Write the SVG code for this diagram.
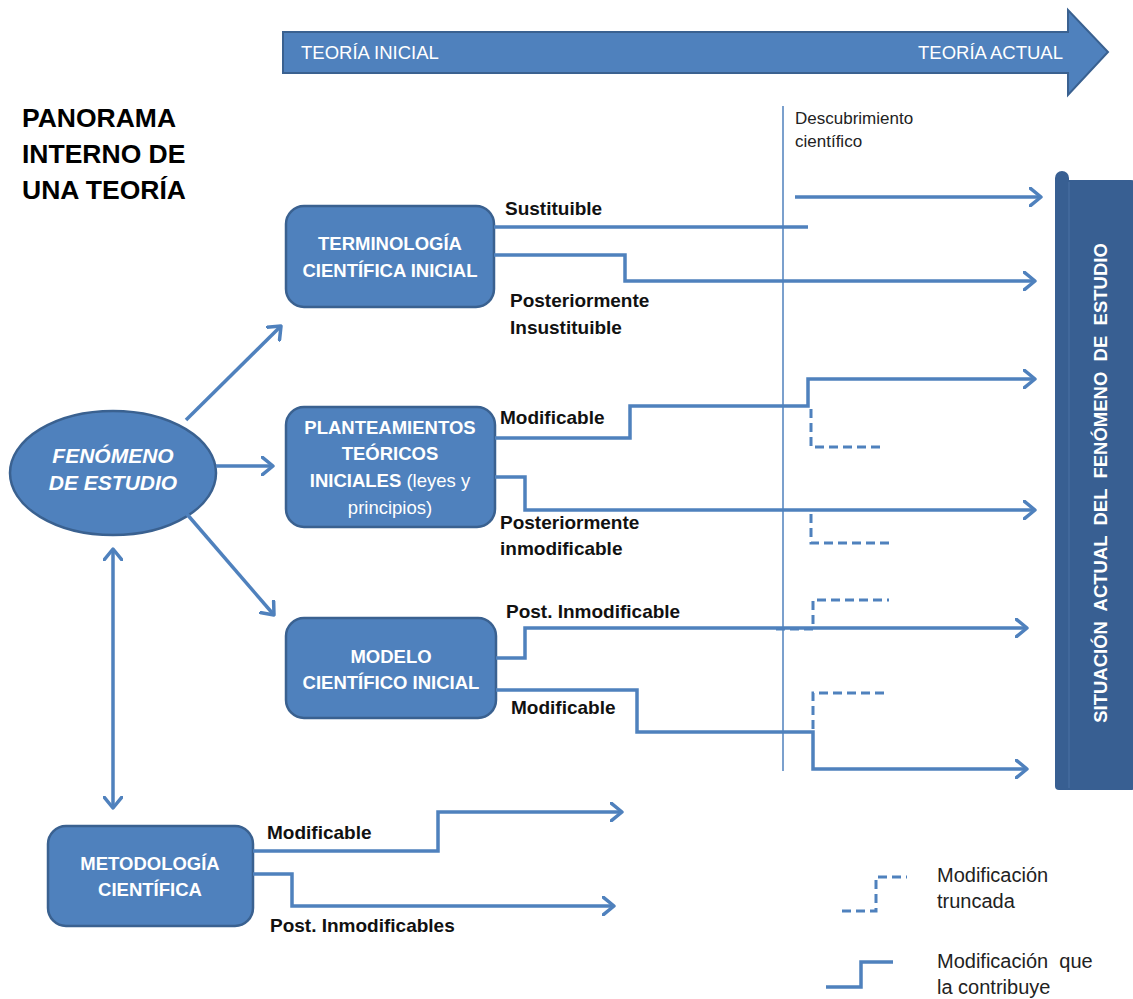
<svg xmlns="http://www.w3.org/2000/svg" width="1133" height="999" viewBox="0 0 1133 999">
<defs>
<marker id="ah" viewBox="0 0 14 20" refX="12" refY="10" markerWidth="14" markerHeight="20" markerUnits="userSpaceOnUse" orient="auto-start-reverse">
<polyline points="1,1 12,10 1,19" fill="none" stroke="#4f81bd" stroke-width="3.5" stroke-linecap="round" stroke-linejoin="round"/>
</marker>
<style>
.node{fill:#4f81bd;stroke:#3a6190;stroke-width:2.5}
.nt{font-family:"Liberation Sans",Arial,sans-serif;font-weight:bold;font-size:18.5px;fill:#fff;text-anchor:middle}
.ln{fill:none;stroke:#4f81bd;stroke-width:3.5;stroke-linejoin:miter}
.dash{fill:none;stroke:#4f81bd;stroke-width:3;stroke-dasharray:9,5}
.lbl{font-family:"Liberation Sans",Arial,sans-serif;font-weight:bold;font-size:19px;fill:#111}
.reg{font-family:"Liberation Sans",Arial,sans-serif;fill:#222}
</style>
</defs>
<rect width="1133" height="999" fill="#fff"/>

<g id="timeline">
<path d="M283,32 H1068 V10 L1108,52 L1068,95 V73 H283 Z" fill="#4f81bd" stroke="#3a6190" stroke-width="2"/>
<text x="301" y="59" font-family="'Liberation Sans',Arial,sans-serif" font-size="18.5" fill="#fff">TEORÍA INICIAL</text>
<text x="1063" y="59" font-family="'Liberation Sans',Arial,sans-serif" font-size="18.5" fill="#fff" text-anchor="end">TEORÍA ACTUAL</text>
</g>

<g id="title" font-family="'Liberation Sans',Arial,sans-serif" font-weight="bold" font-size="26.5" fill="#000">
<text x="22" y="127">PANORAMA</text>
<text x="22" y="163">INTERNO DE</text>
<text x="22" y="199">UNA TEORÍA</text>
</g>

<g id="discovery">
<line x1="783" y1="106" x2="783" y2="771" stroke="#4f81bd" stroke-width="1.5"/>
<text class="reg" x="795" y="124" font-size="17">Descubrimiento</text>
<text class="reg" x="795" y="147" font-size="17">científico</text>
</g>

<g id="situacion">
<rect x="1055" y="180" width="80" height="610" rx="4" fill="#385f92"/>
<rect x="1055" y="171" width="14" height="619" rx="7" fill="#385f92"/>
<line x1="1069" y1="182" x2="1069" y2="788" stroke="#4a72a4" stroke-width="1"/>
<text transform="translate(1107,483) rotate(-90)" font-family="'Liberation Sans',Arial,sans-serif" font-weight="bold" font-size="18.5" fill="#fff" text-anchor="middle" xml:space="preserve">SITUACIÓN  ACTUAL  DEL  FENÓMENO  DE  ESTUDIO</text>
</g>

<g id="fenomeno">
<ellipse cx="113" cy="473" rx="103" ry="62" class="node"/>
<text class="nt" x="113" y="463" style="font-size:21px;font-style:italic">FENÓMENO</text>
<text class="nt" x="113" y="490" style="font-size:21px;font-style:italic">DE ESTUDIO</text>
</g>

<g id="terminologia">
<rect x="286" y="206" width="208" height="101" rx="18" class="node"/>
<text class="nt" x="390" y="250">TERMINOLOGÍA</text>
<text class="nt" x="390" y="277">CIENTÍFICA INICIAL</text>
</g>

<g id="planteamientos">
<rect x="286" y="407" width="209" height="120" rx="18" class="node"/>
<text class="nt" x="390" y="434">PLANTEAMIENTOS</text>
<text class="nt" x="390" y="460">TEÓRICOS</text>
<text class="nt" x="390" y="487">INICIALES <tspan style="font-weight:normal">(leyes y</tspan></text>
<text class="nt" x="390" y="514" style="font-weight:normal">principios)</text>
</g>

<g id="modelo">
<rect x="286" y="618" width="210" height="100" rx="18" class="node"/>
<text class="nt" x="391" y="663">MODELO</text>
<text class="nt" x="391" y="689">CIENTÍFICO INICIAL</text>
</g>

<g id="metodologia">
<rect x="48" y="826" width="205" height="100" rx="18" class="node"/>
<text class="nt" x="150" y="870">METODOLOGÍA</text>
<text class="nt" x="150" y="896">CIENTÍFICA</text>
</g>

<g id="connectors">
<line class="ln" x1="186" y1="420" x2="281" y2="326" marker-end="url(#ah)"/>
<line class="ln" x1="216" y1="466" x2="273" y2="466" marker-end="url(#ah)"/>
<line class="ln" x1="186" y1="513" x2="274" y2="615" marker-end="url(#ah)"/>
<line class="ln" x1="113" y1="549" x2="113" y2="808" marker-start="url(#ah)" marker-end="url(#ah)"/>

<polyline class="ln" points="494,227 808,227"/>
<line class="ln" x1="795" y1="197" x2="1041" y2="197" marker-end="url(#ah)"/>
<polyline class="ln" points="494,255 625,255 625,281 1035,281" marker-end="url(#ah)"/>

<polyline class="ln" points="495,438 630,438 630,406 808,406 808,379 1035,379" marker-end="url(#ah)"/>
<polyline class="dash" points="811,409 811,447 880,447"/>
<polyline class="ln" points="495,477 525,477 525,510 1035,510" marker-end="url(#ah)"/>
<polyline class="dash" points="811,514 811,543 889,543"/>

<polyline class="ln" points="496,658 525,658 525,628 1027,628" marker-end="url(#ah)"/>
<polyline class="dash" points="776,629 813,629 813,600 889,600"/>
<polyline class="ln" points="496,690 637,690 637,732 813,732 813,769 1027,769" marker-end="url(#ah)"/>
<polyline class="dash" points="813,729 813,693 889,693"/>

<polyline class="ln" points="253,851 438,851 438,812 622,812" marker-end="url(#ah)"/>
<polyline class="ln" points="253,874 292,874 292,906 614,906" marker-end="url(#ah)"/>
</g>

<g id="labels">
<text class="lbl" x="505" y="215">Sustituible</text>
<text class="lbl" x="510" y="307">Posteriormente</text>
<text class="lbl" x="510" y="334">Insustituible</text>
<text class="lbl" x="500" y="424">Modificable</text>
<text class="lbl" x="500" y="529">Posteriormente</text>
<text class="lbl" x="500" y="555">inmodificable</text>
<text class="lbl" x="506" y="618">Post. Inmodificable</text>
<text class="lbl" x="511" y="714">Modificable</text>
<text class="lbl" x="267" y="839">Modificable</text>
<text class="lbl" x="270" y="932">Post. Inmodificables</text>
</g>

<g id="legend">
<polyline class="dash" points="842,911 876,911 876,877 907,877"/>
<text class="reg" x="937" y="882" font-size="20">Modificación</text>
<text class="reg" x="937" y="908" font-size="20">truncada</text>
<polyline class="ln" points="826,987 861,987 861,962 893,962"/>
<text class="reg" x="937" y="968" font-size="20" xml:space="preserve">Modificación  que</text>
<text class="reg" x="937" y="994" font-size="20">la contribuye</text>
</g>
</svg>
